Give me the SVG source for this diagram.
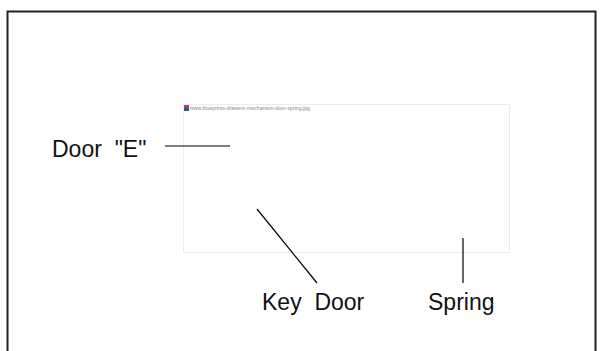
<svg xmlns="http://www.w3.org/2000/svg" width="602" height="351" viewBox="0 0 602 351">
  <style>
    .lbl { font-family: "Liberation Sans", Arial, sans-serif; font-size: 23px; fill: #111; white-space: pre; }
    .lead { stroke: #000; stroke-width: 1.2; fill: none; }
    .tiny { font-family: "Liberation Sans", Arial, sans-serif; font-size: 4.5px; fill: #8a8a8a; }
  </style>
  <rect width="602" height="351" fill="#fff"/>
  <g id="frame">
    <path d="M7.5 360 V11.5 H595.5 V360" fill="none" stroke="#222" stroke-width="2"/>
  </g>
  <g id="picture">
    <rect x="183.5" y="104.5" width="326" height="148" fill="#fff" stroke="#ececec" stroke-width="1"/>
    <rect x="184" y="105" width="5" height="3" fill="#a43aa4"/>
    <rect x="184" y="108" width="5" height="3" fill="#2f5f62"/>
    <text class="tiny" x="190" y="109.5" textLength="120" lengthAdjust="spacingAndGlyphs">www.blueprints-drawers-mechanism-door-spring.jpg</text>
  </g>
  <g id="connectors">
    <line class="lead" x1="165" y1="146" x2="230" y2="146"/>
    <line class="lead" x1="257" y1="209" x2="317" y2="283"/>
    <line class="lead" x1="463" y1="238" x2="463" y2="283"/>
  </g>
  <g id="label-door-e">
    <text class="lbl" x="52" y="157">Door  "E"</text>
  </g>
  <g id="label-key-door">
    <text class="lbl" x="262" y="310">Key  Door</text>
  </g>
  <g id="label-spring">
    <text class="lbl" x="428" y="310">Spring</text>
  </g>
</svg>
